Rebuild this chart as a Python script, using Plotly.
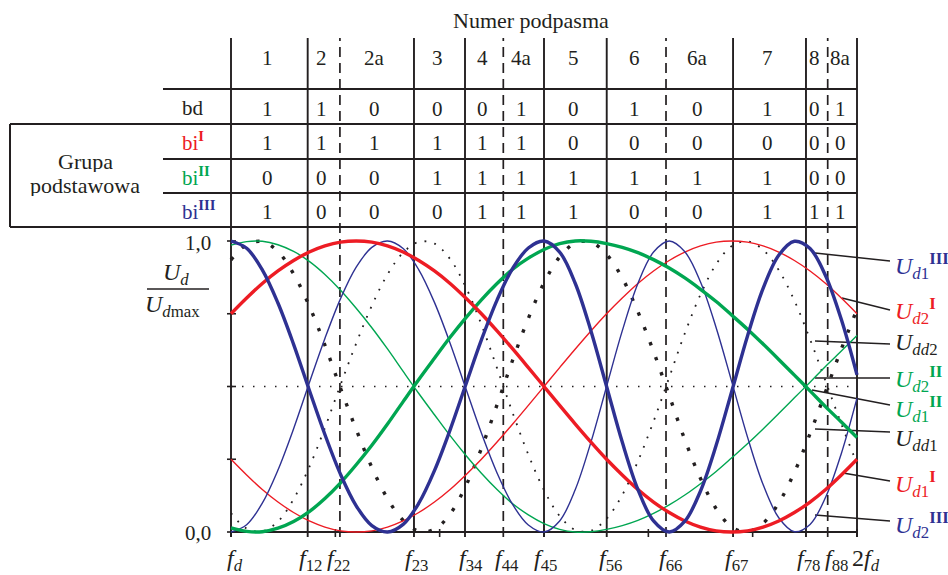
import plotly.graph_objects as go

# ---------------------------------------------------------------- data
# frequency samples, in units of f_d (f_d ... 2 f_d)
freq = [1.000, 1.025, 1.050, 1.075, 1.100, 1.125, 1.150, 1.175, 1.200, 1.225,
        1.250, 1.275, 1.300, 1.325, 1.350, 1.375, 1.400, 1.425, 1.450, 1.475,
        1.500, 1.525, 1.550, 1.575, 1.600, 1.625, 1.650, 1.675, 1.700, 1.725,
        1.750, 1.775, 1.800, 1.825, 1.850, 1.875, 1.900, 1.925, 1.950, 1.975,
        2.000]

# normalised detector outputs U_d / U_dmax
ud1_I = [0.750, 0.804, 0.854, 0.897, 0.933, 0.962, 0.983, 0.996, 1.000, 0.996,
         0.983, 0.962, 0.933, 0.897, 0.854, 0.804, 0.750, 0.691, 0.629, 0.565,
         0.500, 0.435, 0.371, 0.309, 0.250, 0.196, 0.146, 0.103, 0.067, 0.038,
         0.017, 0.004, 0.000, 0.004, 0.017, 0.038, 0.067, 0.103, 0.146, 0.196,
         0.250]
ud2_I = [0.250, 0.196, 0.146, 0.103, 0.067, 0.038, 0.017, 0.004, 0.000, 0.004,
         0.017, 0.038, 0.067, 0.103, 0.146, 0.196, 0.250, 0.309, 0.371, 0.435,
         0.500, 0.565, 0.629, 0.691, 0.750, 0.804, 0.854, 0.897, 0.933, 0.962,
         0.983, 0.996, 1.000, 0.996, 0.983, 0.962, 0.933, 0.897, 0.854, 0.804,
         0.750]
ud1_II = [0.014, 0.002, 0.001, 0.013, 0.036, 0.070, 0.115, 0.169, 0.231, 0.298,
          0.371, 0.448, 0.524, 0.597, 0.669, 0.736, 0.798, 0.854, 0.903, 0.941,
          0.971, 0.991, 1.000, 0.999, 0.991, 0.978, 0.960, 0.936, 0.907, 0.873,
          0.834, 0.792, 0.745, 0.697, 0.646, 0.593, 0.539, 0.485, 0.430, 0.378,
          0.325]
ud2_II = [0.986, 0.998, 0.999, 0.987, 0.964, 0.930, 0.885, 0.831, 0.769, 0.702,
          0.629, 0.552, 0.476, 0.403, 0.331, 0.264, 0.202, 0.146, 0.097, 0.059,
          0.029, 0.009, 0.000, 0.001, 0.009, 0.022, 0.040, 0.064, 0.093, 0.127,
          0.166, 0.208, 0.255, 0.303, 0.354, 0.407, 0.461, 0.515, 0.570, 0.622,
          0.675]
ud1_III = [1.000, 0.975, 0.901, 0.787, 0.645, 0.488, 0.335, 0.198, 0.090, 0.022,
           0.000, 0.026, 0.099, 0.211, 0.351, 0.506, 0.660, 0.797, 0.906, 0.976,
           1.000, 0.962, 0.854, 0.691, 0.500, 0.309, 0.146, 0.038, 0.000, 0.037,
           0.141, 0.298, 0.484, 0.673, 0.837, 0.951, 0.999, 0.974, 0.880, 0.730,
           0.540]
ud2_III = [0.000, 0.025, 0.099, 0.213, 0.355, 0.512, 0.665, 0.802, 0.910, 0.978,
           1.000, 0.974, 0.901, 0.789, 0.649, 0.494, 0.340, 0.203, 0.094, 0.024,
           0.000, 0.038, 0.146, 0.309, 0.500, 0.691, 0.854, 0.962, 1.000, 0.963,
           0.859, 0.702, 0.516, 0.327, 0.163, 0.049, 0.001, 0.026, 0.120, 0.270,
           0.460]
udd1 = [0.935, 0.988, 0.998, 0.964, 0.887, 0.777, 0.642, 0.494, 0.352, 0.222,
        0.115, 0.040, 0.003, 0.009, 0.062, 0.158, 0.287, 0.437, 0.591, 0.734,
        0.856, 0.945, 0.993, 0.996, 0.954, 0.873, 0.757, 0.620, 0.469, 0.317,
        0.184, 0.080, 0.017, 0.001, 0.030, 0.100, 0.205, 0.338, 0.483, 0.629,
        0.765]
udd2 = [0.065, 0.012, 0.002, 0.036, 0.113, 0.223, 0.358, 0.506, 0.648, 0.778,
        0.885, 0.960, 0.997, 0.991, 0.938, 0.842, 0.713, 0.563, 0.409, 0.266,
        0.144, 0.055, 0.007, 0.004, 0.046, 0.127, 0.243, 0.380, 0.531, 0.683,
        0.816, 0.920, 0.983, 0.999, 0.970, 0.900, 0.795, 0.662, 0.517, 0.371,
        0.235]

# sub-band edges (units of f_d) and their labels
edge_freq = [1.000, 1.1225, 1.174, 1.2923, 1.3738, 1.435, 1.500, 1.6002,
             1.6949, 1.802, 1.9185, 1.9532, 2.000]
edge_text = ["<i>f</i><sub><i>d</i></sub>", "<i>f</i><sub>12</sub>",
             "<i>f</i><sub>22</sub>", "<i>f</i><sub>23</sub>",
             "<i>f</i><sub>34</sub>", "<i>f</i><sub>44</sub>",
             "<i>f</i><sub>45</sub>", "<i>f</i><sub>56</sub>",
             "<i>f</i><sub>66</sub>", "<i>f</i><sub>67</sub>",
             "<i>f</i><sub>78</sub>", "<i>f</i><sub>88</sub>",
             "2<i>f</i><sub><i>d</i></sub>"]

# sub-band numbers and code bits
bands = ["1", "2", "2a", "3", "4", "4a", "5", "6", "6a", "7", "8", "8a"]
bd = [1, 1, 0, 0, 0, 1, 0, 1, 0, 1, 0, 1]
bi_I = [1, 1, 1, 1, 1, 1, 0, 0, 0, 0, 0, 0]
bi_II = [0, 0, 0, 1, 1, 1, 1, 1, 1, 1, 0, 0]
bi_III = [1, 0, 0, 0, 1, 1, 1, 0, 0, 1, 1, 1]

# y-axis ticks and tick marks on the frequency axis
y_ticks = [0.0, 0.25, 0.5, 0.75, 1.0]
x_ticks = [1.0, 1.1667, 1.3333, 1.5, 1.6667, 1.8333, 2.0]

# ---------------------------------------------------------------- layout frame
W, H = 948, 575
INK = "#231f20"
RED = "#ed1c24"
GREEN = "#00a651"
BLUE = "#2e3192"
FONT = "'Liberation Serif', 'DejaVu Serif', serif"

X_LEFT_PX, X_RIGHT_PX = 231, 857      # f_d and 2 f_d
Y_ONE_PX, Y_ZERO_PX = 241, 532        # 1,0 and 0,0
SX = (X_RIGHT_PX - X_LEFT_PX) / (edge_freq[-1] - edge_freq[0])
SY = (Y_ZERO_PX - Y_ONE_PX) / 1.0
x_range = [edge_freq[0] - X_LEFT_PX / SX, edge_freq[0] + (W - X_LEFT_PX) / SX]
y_range = [-(H - Y_ZERO_PX) / SY, Y_ZERO_PX / SY]


def xp(p):
    return p / W


def yp(p):
    return 1 - p / H


fig = go.Figure()


def curve(y, color, width, dash="solid"):
    fig.add_trace(go.Scatter(
        x=freq, y=y, mode="lines", hoverinfo="skip", showlegend=False,
        line=dict(color=color, width=width, dash=dash,
                  shape="spline", smoothing=1.0)))


curve(udd2, INK, 1.8, "1.8px,8.2px")
curve(udd1, INK, 3.4, "3.4px,12.6px")
curve(ud2_I, RED, 1.4)
curve(ud2_II, GREEN, 1.4)
curve(ud2_III, BLUE, 1.4)
curve(ud1_II, GREEN, 3.4)
curve(ud1_I, RED, 3.4)
curve(ud1_III, BLUE, 3.4)

shapes = []


def seg(x0, y0, x1, y1, xref="paper", yref="paper", width=1.8, dash="solid",
        color=INK):
    shapes.append(dict(type="line", x0=x0, y0=y0, x1=x1, y1=y1, xref=xref,
                       yref=yref, layer="below",
                       line=dict(color=color, width=width, dash=dash)))


# band edges: a dashed edge opens an "a" sub-band
for i, f in enumerate(edge_freq):
    dashed = i < len(bands) and bands[i].endswith("a")
    seg(f, yp(537), f, yp(38), xref="x",
        width=1.7 if dashed else 1.9, dash="10px,6px" if dashed else "solid")

# table rules
for y, x0 in [(89, 163), (124, 10), (159, 163), (193, 163), (227, 10)]:
    seg(xp(x0), yp(y), xp(X_RIGHT_PX), yp(y), width=2)
seg(xp(10), yp(124), xp(10), yp(227), width=2)

# frequency axis, its ticks, the 0,5 reference line
seg(edge_freq[0], 0, edge_freq[-1], 0, xref="x", yref="y", width=2)
for t in x_ticks:
    seg(t, yp(529), t, yp(537), xref="x", width=1.6)
for t in y_ticks:
    seg(xp(227), t, xp(236), t, yref="y", width=1.6)
seg(edge_freq[0], 0.5, edge_freq[-1], 0.5, xref="x", yref="y",
    width=1.5, dash="1.5px,9.5px")

# fraction bar of the y label
seg(xp(147), yp(289), xp(209), yp(289), width=1.4)

annotations = []


def text(x, y, s, size=21, color=INK, xanchor="center", yanchor="middle",
         xref="paper", xshift=0, height=None):
    a = dict(x=x, y=y, xref=xref, yref="paper", text=s,
             showarrow=False, xanchor=xanchor, yanchor=yanchor,
             xshift=xshift, font=dict(family=FONT, size=size, color=color))
    if height:
        a["height"] = height
    annotations.append(a)


text(xp(531), yp(21), "Numer podpasma", size=22)

# table body
rows = [(bd, 109), (bi_I, 143), (bi_II, 178), (bi_III, 212)]
for j, name in enumerate(bands):
    xm = (edge_freq[j] + edge_freq[j + 1]) / 2
    text(xm, yp(58), name, xref="x", xshift=-2)
    for vals, y in rows:
        text(xm, yp(y), str(vals[j]), xref="x", xshift=-2)

text(xp(180), yp(108), "bd", xanchor="left")
text(xp(180), yp(142), "bi<sup><b>I</b></sup>", color=RED, xanchor="left")
text(xp(180), yp(177), "bi<sup><b>II</b></sup>", color=GREEN, xanchor="left")
text(xp(180), yp(211), "bi<sup><b>III</b></sup>", color=BLUE, xanchor="left")
text(xp(85), yp(161), "Grupa", size=22, height=22)
text(xp(85), yp(185), "podstawowa", size=22, height=22)

# y axis labels
text(xp(213), yp(243), "1,0", xanchor="right")
text(xp(213), yp(533), "0,0", xanchor="right")
text(xp(176), yp(274), "<i>U</i><sub><i>d</i></sub>", size=24)
text(xp(172), yp(306), "<i>U</i><sub><i>d</i>max</sub>", size=24)

# frequency labels
nudge = [-6, -11, -15, -11, -8, -10, -12, -10, -9, -10, -11, -5, -7]
for f, s, dx in zip(edge_freq, edge_text, nudge):
    text(f, yp(543), s, size=24, xref="x", xanchor="left", yanchor="top",
         xshift=dx)

# curve labels with leader lines
curve_labels = [
    ("<i>U</i><sub><i>d</i>1</sub><sup><b>III</b></sup>", BLUE, 266, (815, 253, 890, 261)),
    ("<i>U</i><sub><i>d</i>2</sub><sup><b>I</b></sup>", RED, 311, (842, 298, 890, 310)),
    ("<i>U</i><sub><i>dd</i>2</sub>", INK, 344, (815, 341, 890, 344)),
    ("<i>U</i><sub><i>d</i>2</sub><sup><b>II</b></sup>", GREEN, 379, (815, 378, 890, 378)),
    ("<i>U</i><sub><i>d</i>1</sub><sup><b>II</b></sup>", GREEN, 409, (812, 390, 890, 405)),
    ("<i>U</i><sub><i>dd</i>1</sub>", INK, 440, (815, 429, 890, 432)),
    ("<i>U</i><sub><i>d</i>1</sub><sup><b>I</b></sup>", RED, 484, (843, 473, 890, 481)),
    ("<i>U</i><sub><i>d</i>2</sub><sup><b>III</b></sup>", BLUE, 525, (815, 515, 890, 521)),
]
for s, c, y, (x0, y0, x1, y1) in curve_labels:
    seg(xp(x0), yp(y0), xp(x1), yp(y1), width=1.5)
    text(xp(893), yp(y), s, size=24, color=c, xanchor="left")

fig.update_layout(
    width=W, height=H,
    margin=dict(l=0, r=0, t=0, b=0),
    paper_bgcolor="white",
    plot_bgcolor="rgba(0,0,0,0)",
    font=dict(family=FONT),
    xaxis=dict(range=x_range, domain=[0, 1], visible=False, fixedrange=True),
    yaxis=dict(range=y_range, domain=[0, 1], visible=False, fixedrange=True),
    shapes=shapes,
    annotations=annotations,
    showlegend=False,
)

fig.write_html("out.html")
